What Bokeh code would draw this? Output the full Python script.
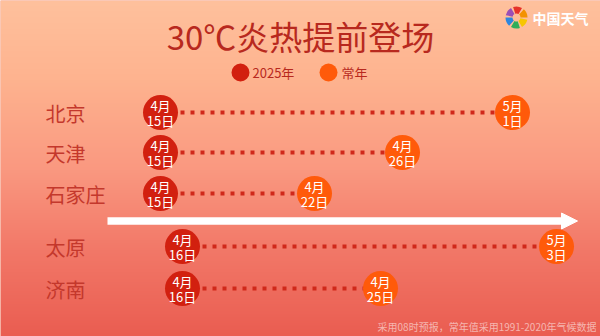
import numpy as np
import pandas as pd
from bokeh.plotting import figure
from bokeh.models import Range1d, Label, Arrow, NormalHead, ColumnDataSource
from bokeh.core.properties import value
from bokeh.embed import file_html
from bokeh.resources import INLINE

# ---------------- data ----------------
cities = ["北京", "天津", "石家庄", "太原", "济南"]
date_2025 = ["04-15", "04-15", "04-15", "04-16", "04-16"]
date_normal = ["05-01", "04-26", "04-22", "05-03", "04-25"]
title = "30℃炎热提前登场"
legend_labels = ["2025年", "常年"]
footer = "采用08时预报，常年值采用1991-2020年气候数据"

# ---------------- layout constants ----------------
W, H = 600, 336
PX_PER_DAY = 22.0
ORIGIN_DAY = 105          # day-of-year placed at ORIGIN_PX
ORIGIN_PX = 160.0
row_py = [112, 152, 193, 246, 288]   # pixel rows from top
FONT = "Noto Sans CJK SC"
RED = "#D2200F"
ORANGE = "#FF5A0A"
DOT = "#D0281A"
DARK = "#B8291E"
LABEL = "#C4382C"

X0 = ORIGIN_DAY - ORIGIN_PX / PX_PER_DAY
X1 = X0 + W / PX_PER_DAY


def px2x(px):
    return X0 + px / PX_PER_DAY


def doy(s):
    return pd.Timestamp("2025-" + s).dayofyear


def md(s):
    t = pd.Timestamp("2025-" + s)
    return f"{t.month}月", f"{t.day}日"


p = figure(width=W, height=H, output_backend="svg", toolbar_location=None,
           x_range=Range1d(X0, X1), y_range=Range1d(0, H),
           x_axis_type=None, y_axis_type=None, min_border=0)
p.grid.visible = False
p.outline_line_color = None
p.background_fill_color = "#F49A80"
p.border_fill_color = "#F49A80"

# ---------------- background gradient ----------------
stops_py = [0, 80, 170, 250, 336]
stops_rgb = [(255, 193, 157), (254, 179, 143), (250, 152, 128), (242, 120, 104), (234, 93, 81)]
rows = np.arange(H)
py = H - rows - 0.5
img = np.empty((H, 1), dtype=np.uint32)
view = img.view(dtype=np.uint8).reshape((H, 1, 4))
for c in range(3):
    view[:, 0, c] = np.interp(py, stops_py, [s[c] for s in stops_rgb]).astype(np.uint8)
view[:, 0, 3] = 255
p.image_rgba(image=[img], x=X0, y=0, dw=X1 - X0, dh=H)

# ---------------- arrow ----------------
arrow = Arrow(x_start=107, y_start=H - 220.5, x_end=577, y_end=H - 220.5,
              start_units="screen", end_units="screen",
              line_color="white", line_width=7.5,
              end=NormalHead(size=16, fill_color="white", line_color="white", line_width=1))
p.add_layout(arrow)

# ---------------- rows ----------------
ys = [H - v for v in row_py]
x25 = [doy(s) for s in date_2025]
xn = [doy(s) for s in date_normal]
m25 = [md(s) for s in date_2025]
mn = [md(s) for s in date_normal]

src = ColumnDataSource(dict(
    y=ys, x25=x25, xn=xn,
    m25=[a for a, b in m25], d25=[b for a, b in m25],
    mn=[a for a, b in mn], dn=[b for a, b in mn],
    city=cities, lx=[px2x(45)] * len(cities)))

p.segment(x0="x25", y0="y", x1="xn", y1="y", source=src,
          line_color=DOT, line_width=4, line_dash="4 6", line_cap="butt")
p.scatter(x="x25", y="y", source=src, size=35, marker="circle",
          fill_color=RED, line_color=None)
p.scatter(x="xn", y="y", source=src, size=35, marker="circle",
          fill_color=ORANGE, line_color=None)

for xcol, mcol, dcol in (("x25", "m25", "d25"), ("xn", "mn", "dn")):
    p.text(x=xcol, y="y", text=mcol, source=src, y_offset=-7,
           text_align="center", text_baseline="middle", text_color="white",
           text_font=value(FONT), text_font_size="13px")
    p.text(x=xcol, y="y", text=dcol, source=src, y_offset=8,
           text_align="center", text_baseline="middle", text_color="white",
           text_font=value(FONT), text_font_size="13px")

p.text(x="lx", y="y", text="city", source=src, y_offset=1,
       text_align="left", text_baseline="middle", text_color=LABEL,
       text_font=value(FONT), text_font_size="20px")

# ---------------- title & legend ----------------
p.add_layout(Label(x=W / 2, y=H - 35, x_units="screen", y_units="screen", text=title,
                   text_align="center", text_baseline="middle", text_color=DARK,
                   text_font=FONT, text_font_size="33px"))

p.scatter(x=[px2x(240), px2x(328)], y=[H - 72, H - 72], size=18, marker="circle",
          fill_color=[RED, ORANGE], line_color=None)
p.add_layout(Label(x=252, y=H - 72, x_units="screen", y_units="screen", text=legend_labels[0],
                   text_align="left", text_baseline="middle", text_color=DARK,
                   text_font=FONT, text_font_size="13px"))
p.add_layout(Label(x=341, y=H - 72, x_units="screen", y_units="screen", text=legend_labels[1],
                   text_align="left", text_baseline="middle", text_color=DARK,
                   text_font=FONT, text_font_size="13px"))

# ---------------- logo ----------------
logo_cols = ["#F39200", "#E6332A", "#9B4FB5", "#2E86DE", "#2FAE5A", "#F7C600"]
n = len(logo_cols)
starts = [i * 2 * np.pi / n for i in range(n)]
ends = [s + 2 * np.pi / n * 0.8 for s in starts]
p.annular_wedge(x=[px2x(516)] * n, y=[H - 17] * n, inner_radius=4, outer_radius=11,
                inner_radius_units="screen", outer_radius_units="screen",
                start_angle=starts, end_angle=ends, fill_color=logo_cols, line_color=None)
p.add_layout(Label(x=532, y=H - 17, x_units="screen", y_units="screen", text="中国天气",
                   text_align="left", text_baseline="middle", text_color="white",
                   text_font=FONT, text_font_size="14px", text_font_style="bold"))

# ---------------- footer ----------------
p.add_layout(Label(x=596, y=H - 326, x_units="screen", y_units="screen", text=footer,
                   text_align="right", text_baseline="middle", text_color="white",
                   text_alpha=0.55, text_font=FONT, text_font_size="10px"))

open("out.html", "w").write(file_html(p, INLINE))
